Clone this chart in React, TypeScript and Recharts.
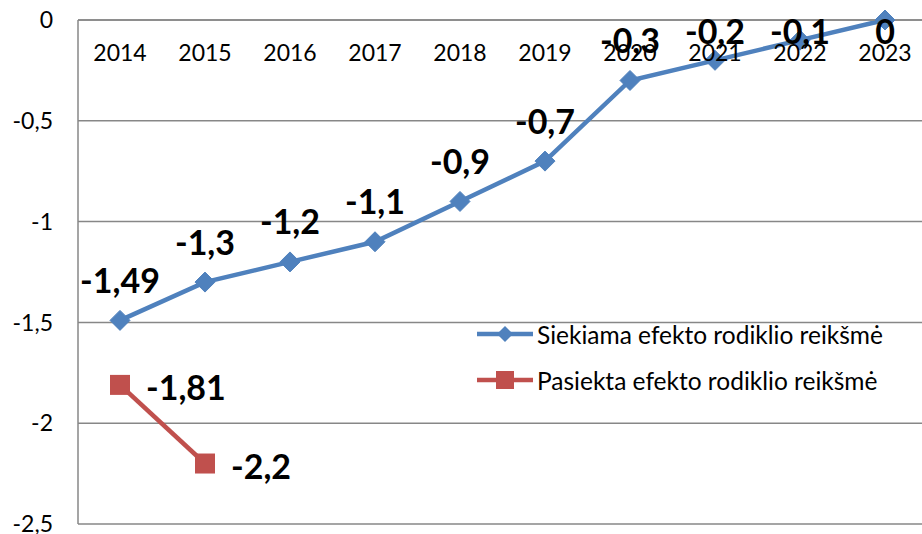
import React from "react";
import { LineChart, Line, XAxis, YAxis, CartesianGrid, Legend, LabelList } from "recharts";

const years = ["2014", "2015", "2016", "2017", "2018", "2019", "2020", "2021", "2022", "2023"];
const targetValues = [-1.49, -1.3, -1.2, -1.1, -0.9, -0.7, -0.3, -0.2, -0.1, 0];
const achievedValues: (number | null)[] = [-1.81, -2.2, null, null, null, null, null, null, null, null];
const yTicks = [0, -0.5, -1, -1.5, -2, -2.5];
const seriesNames = ["Siekiama efekto rodiklio reikšmė", "Pasiekta efekto rodiklio reikšmė"];

const data = years.map((y, i) => ({ year: y, target: targetValues[i], achieved: achievedValues[i] }));

const BLUE = "#4F81BD";
const RED = "#C0504D";
const GRID = "#878787";
const FONT = "Lato, 'Open Sans', sans-serif";

const fmt = (v: number) => String(v).replace(".", ",");

const Diamond = (props: any) => {
  const { cx, cy, index } = props;
  if (cx == null || cy == null) return <g key={`d${index}`} />;
  const r = 10;
  return (
    <polygon
      key={`d${index}`}
      points={`${cx},${cy - r} ${cx + r},${cy} ${cx},${cy + r} ${cx - r},${cy}`}
      fill={BLUE}
      stroke={BLUE}
    />
  );
};

const Square = (props: any) => {
  const { cx, cy, index } = props;
  if (cx == null || cy == null) return <g key={`s${index}`} />;
  const r = 10;
  return <rect key={`s${index}`} x={cx - r} y={cy - r} width={2 * r} height={2 * r} fill={RED} />;
};

const BlueLabel = (props: any) => {
  const { x, y, value } = props;
  if (value == null) return null;
  const cy = Math.max(y - 41, 30);
  return (
    <text x={x} y={cy} textAnchor="middle" dominantBaseline="central" fontFamily={FONT} fontWeight={700} fontSize={34} fill="#000">
      {fmt(value)}
    </text>
  );
};

const RedLabel = (props: any) => {
  const { x, y, value } = props;
  if (value == null) return null;
  return (
    <text x={x + 26} y={y + 2} textAnchor="start" dominantBaseline="central" fontFamily={FONT} fontWeight={700} fontSize={34} fill="#000">
      {fmt(value)}
    </text>
  );
};

const XTick = (props: any) => {
  const { x, payload } = props;
  return (
    <text x={x} y={52} textAnchor="middle" dominantBaseline="central" fontFamily={FONT} fontSize={23} fill="#000">
      {payload.value}
    </text>
  );
};

const LegendContent = () => (
  <svg width={440} height={90} style={{ overflow: "visible" }}>
    <line x1={0} y1={16} x2={56} y2={16} stroke={BLUE} strokeWidth={4.5} />
    <polygon points="28,8 36,16 28,24 20,16" fill={BLUE} />
    <text x={60} y={16} dominantBaseline="central" fontFamily={FONT} fontSize={24.5} fill="#000">
      {seriesNames[0]}
    </text>
    <line x1={0} y1={62} x2={56} y2={62} stroke={RED} strokeWidth={4.5} />
    <rect x={19} y={53} width={18} height={18} fill={RED} />
    <text x={60} y={62} dominantBaseline="central" fontFamily={FONT} fontSize={24.5} fill="#000">
      {seriesNames[1]}
    </text>
  </svg>
);

export default function App() {
  return (
    <div style={{ position: "absolute", left: 0, top: 0, width: 922, height: 534, overflow: "hidden", background: "#fff" }}>
      <LineChart width={930} height={534} data={data} margin={{ top: 19, right: 2, bottom: 10, left: 0 }}>
        <CartesianGrid horizontal={true} vertical={false} stroke={GRID} strokeWidth={1.5} />
        <XAxis
          dataKey="year"
          orientation="top"
          height={1}
          tickSize={0}
          tickMargin={0}
          padding={{ left: 42, right: 43 }}
          axisLine={{ stroke: GRID, strokeWidth: 1.5 }}
          tickLine={false}
          tick={<XTick />}
          interval={0}
        />
        <YAxis
          type="number"
          domain={[-2.5, 0]}
          ticks={yTicks}
          width={78}
          tickSize={0}
          tickMargin={25}
          tickLine={false}
          axisLine={{ stroke: GRID, strokeWidth: 1.5 }}
          tickFormatter={fmt}
          tick={{ fontFamily: FONT, fontSize: 23, fill: "#000" }}
          interval={0}
        />
        <Legend
          layout="vertical"
          align="center"
          verticalAlign="middle"
          content={<LegendContent />}
          wrapperStyle={{ position: "absolute", left: 477, top: 318, width: 440, height: 90 }}
        />
        <Line
          dataKey="target"
          name={seriesNames[0]}
          stroke={BLUE}
          strokeWidth={4.5}
          dot={Diamond}
          activeDot={false}
          isAnimationActive={false}
        >
          <LabelList dataKey="target" content={<BlueLabel />} />
        </Line>
        <Line
          dataKey="achieved"
          name={seriesNames[1]}
          stroke={RED}
          strokeWidth={4.5}
          dot={Square}
          activeDot={false}
          isAnimationActive={false}
        >
          <LabelList dataKey="achieved" content={<RedLabel />} />
        </Line>
      </LineChart>
    </div>
  );
}
